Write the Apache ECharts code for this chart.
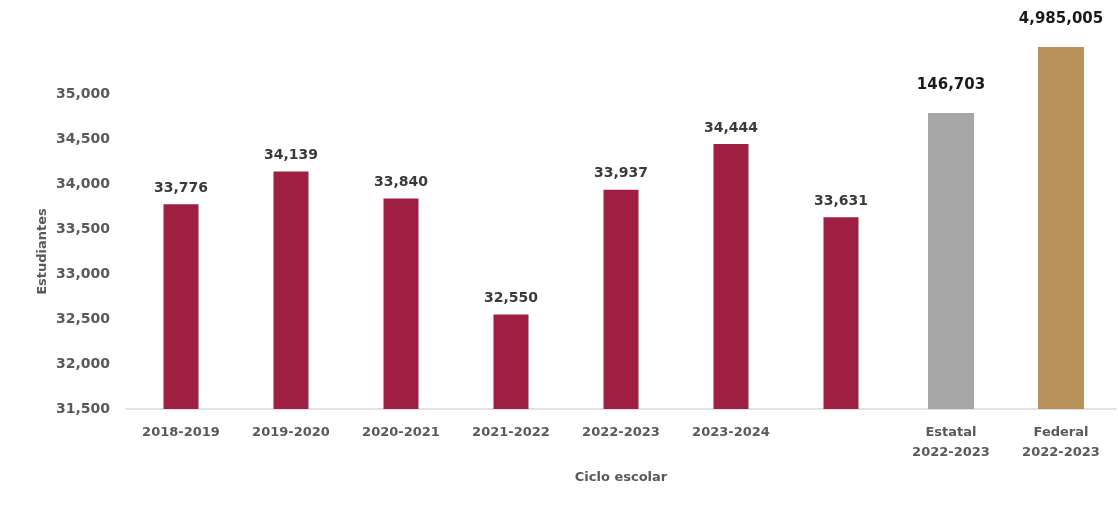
<!DOCTYPE html>
<html>
<head>
<meta charset="utf-8">
<script src="https://cdn.jsdelivr.net/npm/echarts@6/dist/echarts.min.js"></script>
<style>html,body{margin:0;padding:0;background:#fff;}#c{width:1118px;height:508px;}</style>
</head>
<body>
<div id="c"></div>
<script>
const categories = ['2018-2019','2019-2020','2020-2021','2021-2022','2022-2023','2023-2024','','Estatal\n2022-2023','Federal\n2022-2023'];
const studentValues = [33776, 34139, 33840, 32550, 33937, 34444, 33631];
const comparisonTotals = [146703, 4985005];
const comparisonDrawnHeights = [34789, 35522];
const yTicksMin = 31500, yTicksMax = 35000, yTickStep = 500;

const fmt = v => Number(v).toLocaleString('en-US');
const s1 = categories.map((c, i) => i < studentValues.length ? studentValues[i] : '-');
const s2 = categories.map((c, i) => {
  const k = i - studentValues.length;
  return k >= 0 ? { value: comparisonDrawnHeights[k], total: comparisonTotals[k],
    itemStyle: { color: k === 0 ? '#A6A6A6' : '#B8925A' } } : '-';
});

const FONT = 'DejaVu Sans';
const chart = echarts.init(document.getElementById('c'));
chart.setOption({
  animation: false,
  textStyle: { fontFamily: FONT },
  grid: { left: 126, right: 2, top: 4, bottom: 99, outerBoundsMode: 'none' },
  xAxis: [{
    type: 'category', data: categories,
    name: 'Ciclo escolar', nameLocation: 'middle', nameGap: 62,
    nameTextStyle: { color: '#595959', fontSize: 13, fontWeight: 'bold', fontFamily: FONT },
    axisLine: { lineStyle: { color: '#D9D9D9', width: 1.5 } },
    axisTick: { show: false },
    axisLabel: { color: '#595959', fontSize: 13, fontWeight: 'bold', margin: 14, lineHeight: 20, interval: 0, fontFamily: FONT }
  }, {
    type: 'category', data: categories, show: false, position: 'bottom'
  }],
  yAxis: {
    type: 'value', min: 31500, max: 36000, interval: yTickStep,
    name: 'Estudiantes', nameLocation: 'middle', nameGap: 77, nameRotate: 90, nameMoveOverlap: false,
    nameTextStyle: { color: '#595959', fontSize: 13, fontWeight: 'bold', fontFamily: FONT, padding: [0, 90, 0, 0] },
    axisLine: { show: false }, axisTick: { show: false }, splitLine: { show: false },
    axisLabel: { color: '#595959', fontSize: 14, fontWeight: 'bold', margin: 16, fontFamily: FONT,
      formatter: v => (v >= yTicksMin && v <= yTicksMax) ? fmt(v) : '' }
  },
  series: [
    { type: 'bar', data: s1, barWidth: 35, xAxisIndex: 0,
      itemStyle: { color: '#9E1F41' },
      label: { show: true, position: 'top', distance: 9, color: '#3a3a3a', fontSize: 14, fontWeight: 'bold', fontFamily: FONT,
        formatter: p => fmt(p.value) } },
    { type: 'bar', data: s2, barWidth: 46, xAxisIndex: 1,
      label: { show: true, position: 'top', distance: 20, color: '#1a1a1a', fontSize: 15, fontWeight: 'bold', fontFamily: FONT,
        formatter: p => fmt(p.data.total) } }
  ]
});
</script>
</body>
</html>
